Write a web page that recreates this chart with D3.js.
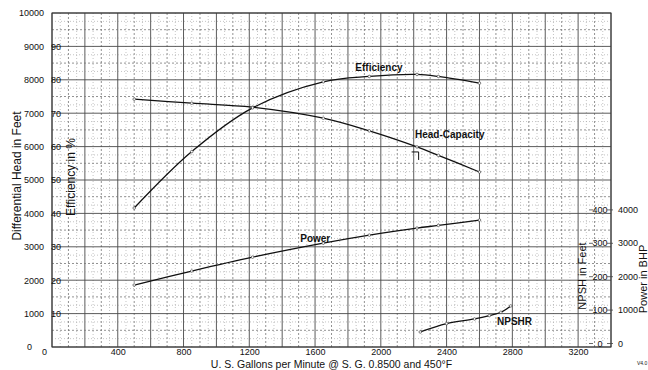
<!DOCTYPE html>
<html>
<head>
<meta charset="utf-8">
<script src="https://cdn.jsdelivr.net/npm/d3@7"></script>
<style>
body { margin: 0; background: #fff; }
text { font-family: "Liberation Sans", Arial, sans-serif; fill: #111; }
</style>
</head>
<body>
<svg width="648" height="370"></svg>
<script>
// test points (U.S. gpm) shared by head, efficiency and power
var flow = [500, 850, 1220, 1650, 1930, 2220, 2350, 2600];
var head = [7420, 7300, 7180, 6850, 6470, 5990, 5740, 5240];
var efficiency = [41.6, 58.5, 71.6, 79.4, 81.0, 81.6, 81.0, 79.0];
var power = [1856, 2275, 2690, 3110, 3350, 3560, 3640, 3800];

var npshFlow = [2240, 2400, 2570, 2660, 2730, 2790];
var npshr = [45, 70, 84, 94, 104, 123];

var ratedPoint = [2230, 5840];

var flowTicks = [0, 400, 800, 1200, 1600, 2000, 2400, 2800, 3200];
var headTicks = [0, 1000, 2000, 3000, 4000, 5000, 6000, 7000, 8000, 9000, 10000];
var effTicks = [10, 20, 30, 40, 50, 60, 70, 80, 90];
var npshTicks = [0, 100, 200, 300, 400];
var powerTicks = [0, 1000, 2000, 3000, 4000];

var svg = d3.select('svg');

var x = d3.scaleLinear().domain([0, 3400]).range([52, 611]);
var y = d3.scaleLinear().domain([0, 10000]).range([347, 13]);
var yEff = d3.scaleLinear().domain([0, 100]).range([347, 13]);
var yNpsh = d3.scaleLinear().domain([0, 1000]).range([347, 13]);

// grid: solid every 200 gpm / 1000 ft, dashed halfway, dotted quarters
var vLines = d3.range(0, 3401, 50);
var hLines = d3.range(0, 10001, 250);

function gridClass(v, major, minor) {
    if (v % major == 0) return 'major';
    if (v % minor == 0) return 'minor';
    return 'fine';
}
var gridStyle = {
    major: {stroke: '#4a4a4a', width: 0.9, dash: null},
    minor: {stroke: '#777', width: 0.8, dash: '2,2'},
    fine: {stroke: '#aaa', width: 0.7, dash: '1,2'}
};

var grid = svg.append('g');
grid.selectAll('line.v')
    .data(vLines)
    .enter().append('line')
    .attr('x1', function(d) { return x(d); })
    .attr('x2', function(d) { return x(d); })
    .attr('y1', y(0))
    .attr('y2', y(10000))
    .each(function(d) {
        var s = gridStyle[gridClass(d, 200, 100)];
        d3.select(this).attr('stroke', s.stroke).attr('stroke-width', s.width)
            .attr('stroke-dasharray', s.dash);
    });
grid.selectAll('line.h')
    .data(hLines)
    .enter().append('line')
    .attr('y1', function(d) { return y(d); })
    .attr('y2', function(d) { return y(d); })
    .attr('x1', x(0))
    .attr('x2', x(3400))
    .each(function(d) {
        var s = gridStyle[gridClass(d, 1000, 500)];
        d3.select(this).attr('stroke', s.stroke).attr('stroke-width', s.width)
            .attr('stroke-dasharray', s.dash);
    });

svg.append('rect')
    .attr('x', x(0)).attr('y', y(10000))
    .attr('width', x(3400) - x(0)).attr('height', y(0) - y(10000))
    .attr('fill', 'none').attr('stroke', '#333').attr('stroke-width', 1);

// axes
var fmt = d3.format('d');
var headAxis = svg.append('g')
    .attr('transform', 'translate(' + x(0) + ',0)')
    .call(d3.axisLeft(y).tickValues(headTicks).tickFormat(fmt).tickSize(0).tickPadding(8));
var effAxis = svg.append('g')
    .attr('transform', 'translate(' + (x(0) - 1) + ',0)')
    .call(d3.axisRight(yEff).tickValues(effTicks).tickFormat(fmt).tickSize(0).tickPadding(0));
var flowAxis = svg.append('g')
    .attr('transform', 'translate(0,' + y(0) + ')')
    .call(d3.axisBottom(x).tickValues(flowTicks).tickFormat(fmt).tickSize(0).tickPadding(2));

[headAxis, effAxis, flowAxis].forEach(function(a) {
    a.select('.domain').remove();
    a.selectAll('text').style('font-size', '9px')
        .style('font-family', '"Liberation Sans", Arial, sans-serif').attr('fill', '#111');
});
// the two zeros sit apart in the corner
flowAxis.select('.tick text').attr('dx', -8);
headAxis.select('.tick text').attr('dx', -12);

// right hand scales (NPSH, power), printed a little above their lines
svg.selectAll('text.npsh')
    .data(npshTicks)
    .enter().append('text')
    .attr('x', 600)
    .attr('y', function(d) { return yNpsh(d) - 3.5; })
    .attr('dy', '0.35em')
    .attr('text-anchor', 'middle')
    .style('font-size', '9px')
    .text(function(d) { return d; });
svg.selectAll('line.npshTick')
    .data(npshTicks.concat(npshTicks))
    .enter().append('line')
    .attr('x1', function(d, i) { return i < npshTicks.length ? 589 : 607; })
    .attr('x2', function(d, i) { return i < npshTicks.length ? 593 : 613; })
    .attr('y1', function(d) { return yNpsh(d) - 3.5; })
    .attr('y2', function(d) { return yNpsh(d) - 3.5; })
    .attr('stroke', '#444').attr('stroke-width', 0.8);
svg.selectAll('text.power')
    .data(powerTicks)
    .enter().append('text')
    .attr('x', 618)
    .attr('y', function(d) { return y(d) - 3.5; })
    .attr('dy', '0.35em')
    .style('font-size', '9px')
    .text(function(d) { return d; });

// axis titles
function vTitle(txt, cx, cy, size) {
    svg.append('text')
        .attr('transform', 'translate(' + cx + ',' + cy + ') rotate(-90)')
        .attr('text-anchor', 'middle')
        .attr('dy', '0.35em')
        .style('font-size', size + 'px')
        .text(txt);
}
vTitle('Differential Head in Feet', 17, 176, 12);
vTitle('Efficiency in %', 71, 177, 12);
vTitle('NPSH in Feet', 582, 276, 11);
vTitle('Power in BHP', 643, 279, 11);

svg.append('text')
    .attr('x', (x(0) + x(3400)) / 2)
    .attr('y', 368)
    .attr('text-anchor', 'middle')
    .style('font-size', '10.5px')
    .text('U. S. Gallons per Minute @ S. G. 0.8500 and 450\u00B0F');

svg.append('text')
    .attr('x', 637).attr('y', 365)
    .style('font-size', '5px')
    .text('V4.0');

// curves
function drawCurve(xs, ys, scale) {
    var pts = xs.map(function(d, i) { return [x(d), scale(ys[i])]; });
    svg.append('path')
        .attr('d', d3.line().curve(d3.curveCatmullRom.alpha(0.5))(pts))
        .attr('fill', 'none')
        .attr('stroke', '#111')
        .attr('stroke-width', 1.3);
    svg.append('g').selectAll('circle')
        .data(pts)
        .enter().append('circle')
        .attr('cx', function(d) { return d[0]; })
        .attr('cy', function(d) { return d[1]; })
        .attr('r', 1.3)
        .attr('fill', '#fff')
        .attr('stroke', '#333')
        .attr('stroke-width', 0.6);
}
drawCurve(flow, head, y);
drawCurve(flow, efficiency, yEff);
drawCurve(flow, power, y);
drawCurve(npshFlow, npshr, yNpsh);

// rated point mark
var rx = x(ratedPoint[0]), ry = y(ratedPoint[1]);
svg.append('path')
    .attr('d', 'M' + (rx - 7) + ',' + ry + 'H' + rx + 'V' + (ry + 8))
    .attr('fill', 'none').attr('stroke', '#111').attr('stroke-width', 1);

// curve names
function curveLabel(txt, gx, yv) {
    svg.append('text')
        .attr('x', x(gx)).attr('y', yv)
        .attr('dy', '0.35em')
        .style('font-size', '10px')
        .style('font-weight', 'bold')
        .text(txt);
}
curveLabel('Efficiency', 1845, yEff(83.8));
curveLabel('Head-Capacity', 2208, y(6377));
curveLabel('Power', 1510, y(3263));
curveLabel('NPSHR', 2707, yNpsh(75));
</script>
</body>
</html>
